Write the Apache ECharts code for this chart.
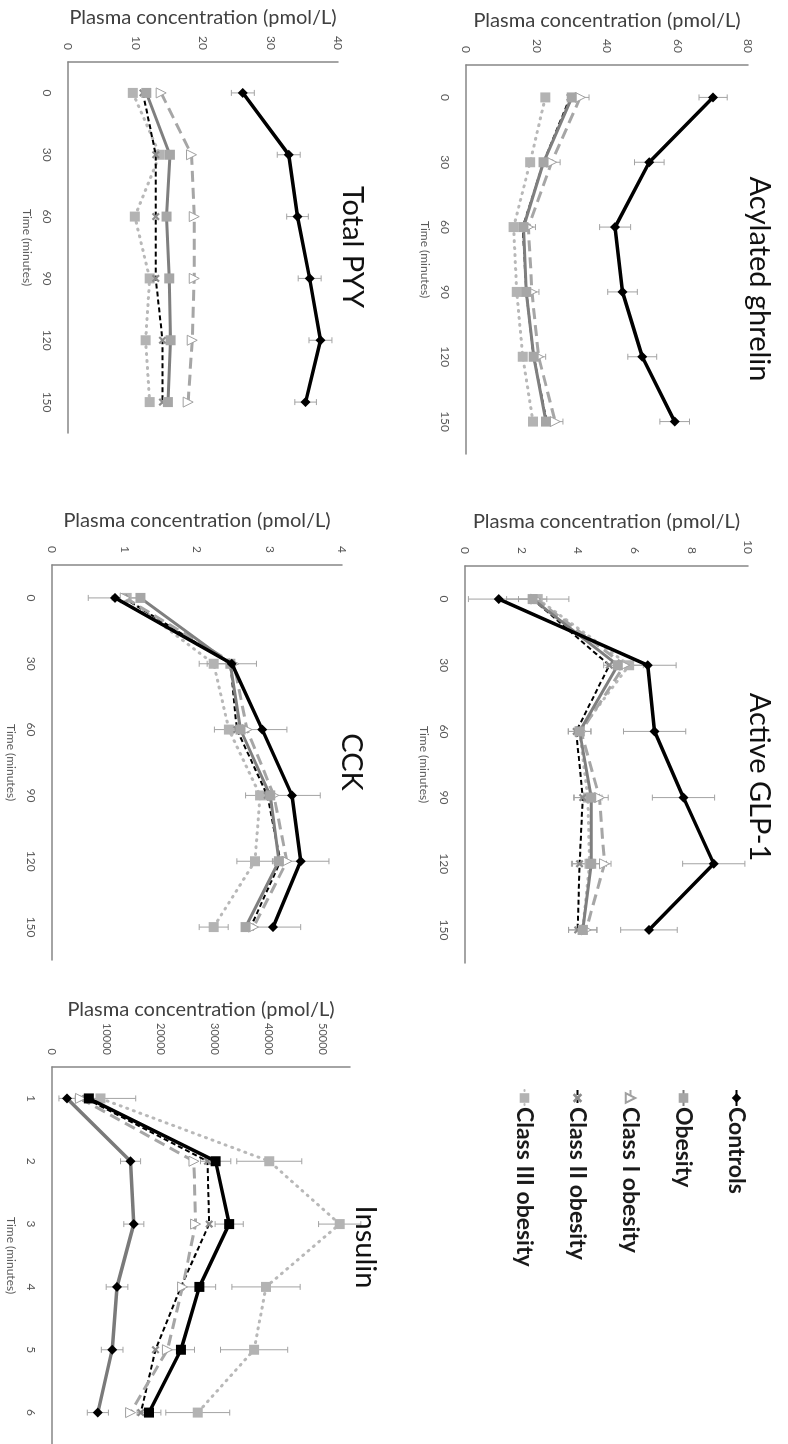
<!DOCTYPE html>
<html>
<head>
<meta charset="utf-8">
<script src="https://cdn.jsdelivr.net/npm/echarts@6/dist/echarts.min.js"></script>
<style>
  html, body { margin: 0; padding: 0; background: #ffffff; }
  body { width: 788px; height: 1444px; overflow: hidden; position: relative; }
  /* the figure is drawn upright, then turned a quarter clockwise like the scan */
  #chart {
    position: absolute; left: 0; top: 0;
    width: 1444px; height: 788px;
    transform-origin: 0 0;
    transform: translate(788px, 0) rotate(90deg);
  }
</style>
</head>
<body>
<div id="chart"></div>
<script>
var groups = ['Controls', 'Obesity', 'Class I obesity', 'Class II obesity', 'Class III obesity'];
var times = ['0', '30', '60', '90', '120', '150'];
var insulinTimes = ['1', '2', '3', '4', '5', '6'];

// Acylated ghrelin
var ghrelinControls = [70.1, 52.0, 42.3, 44.4, 50.0, 59.2];
var ghrelinObesity  = [30.0, 22.0, 16.3, 17.1, 19.2, 22.7];
var ghrelinClass1   = [32.4, 24.3, 17.7, 18.7, 20.6, 25.3];
var ghrelinClass2   = [29.5, 22.0, 16.1, 17.1, 19.2, 22.9];
var ghrelinClass3   = [22.5, 18.2, 13.5, 14.4, 16.1, 19.0];
var ghrelinControlsErr = [4.0, 4.2, 4.4, 4.2, 4.1, 4.2];
var ghrelinClass1Err   = [2.5, 2.4, 2.0, 2.0, 2.0, 2.2];

// Active GLP-1
var glpControls = [1.19, 6.46, 6.70, 7.72, 8.79, 6.50];
var glpObesity  = [2.39, 5.40, 4.05, 4.46, 4.46, 4.16];
var glpClass1   = [2.50, 5.64, 4.10, 4.75, 4.93, 4.28];
var glpClass2   = [2.39, 5.10, 3.93, 4.16, 4.05, 3.98];
var glpClass3   = [2.57, 5.80, 4.05, 4.34, 4.40, 4.16];
var glpControlsErr = [1.07, 1.00, 1.10, 1.10, 1.10, 1.00];
var glpObesityErr  = [0.50, 0.50, 0.40, 0.60, 0.70, 0.50];
var glpClass3Err   = [1.10, 0.50, 0.40, 0.50, 0.60, 0.50];

// Total PYY
var pyyControls = [25.9, 32.7, 34.0, 35.8, 37.4, 35.2];
var pyyObesity  = [11.6, 15.1, 14.6, 15.0, 15.2, 14.8];
var pyyClass1   = [13.8, 18.3, 18.7, 18.7, 18.4, 17.8];
var pyyClass2   = [11.1, 13.0, 13.0, 13.0, 14.0, 14.0];
var pyyClass3   = [9.6, 13.6, 9.9, 12.1, 11.5, 12.1];
var pyyControlsErr = [1.7, 1.7, 1.6, 1.7, 1.7, 1.6];

// CCK
var cckControls = [0.87, 2.48, 2.90, 3.31, 3.43, 3.05];
var cckObesity  = [1.22, 2.46, 2.60, 3.01, 3.13, 2.67];
var cckClass1   = [1.01, 2.51, 2.69, 3.06, 3.24, 2.78];
var cckClass2   = [0.99, 2.46, 2.55, 2.97, 3.15, 2.74];
var cckClass3   = [1.03, 2.23, 2.44, 2.87, 2.80, 2.23];
var cckControlsErr = [0.37, 0.34, 0.34, 0.39, 0.39, 0.38];
var cckClass3Err   = [0.20, 0.20, 0.20, 0.20, 0.25, 0.20];

// Insulin
var insulinControls = [2780, 14500, 15100, 12000, 11100, 8460];
var insulinObesity  = [6800, 30200, 32700, 27200, 23800, 17900];
var insulinClass1   = [5250, 26200, 26500, 24100, 21300, 14500];
var insulinClass2   = [6200, 28700, 29000, 23800, 19100, 16400];
var insulinClass3   = [8950, 40100, 53100, 39500, 37300, 26900];
var insulinControlsErr = [1500, 1850, 1850, 2000, 2000, 1950];
var insulinObesityErr  = [1500, 2800, 2600, 3000, 2500, 2200];
var insulinClass3Err   = [6500, 6000, 3900, 6300, 6200, 5900];

var panels = [
  { title: 'Acylated ghrelin', tx: 274, ty: 26, grid: { left: 65, top: 40, width: 389, height: 282 },
    max: 80, interval: 20, cats: times,
    data: [ghrelinControls, ghrelinObesity, ghrelinClass1, ghrelinClass2, ghrelinClass3],
    err: [ghrelinControlsErr, null, ghrelinClass1Err, null, null] },
  { title: 'Active GLP-1', tx: 772, ty: 26, grid: { left: 566, top: 40, width: 397, height: 283 },
    max: 10, interval: 2, cats: times,
    data: [glpControls, glpObesity, glpClass1, glpClass2, glpClass3],
    err: [glpControlsErr, glpObesityErr, null, null, glpClass3Err] },
  { title: 'Total PYY', tx: 242, ty: 433, grid: { left: 62, top: 450, width: 371, height: 270 },
    max: 40, interval: 10, cats: times,
    data: [pyyControls, pyyObesity, pyyClass1, pyyClass2, pyyClass3],
    err: [pyyControlsErr, null, null, null, null] },
  { title: 'CCK', tx: 757, ty: 434, grid: { left: 565, top: 446, width: 395, height: 290 },
    max: 4, interval: 1, cats: times,
    data: [cckControls, cckObesity, cckClass1, cckClass2, cckClass3],
    err: [cckControlsErr, null, null, null, cckClass3Err] },
  { title: 'Insulin', tx: 1242, ty: 420, grid: { left: 1067, top: 438, width: 379, height: 298 },
    max: 55000, interval: 10000, cats: insulinTimes, insulin: true,
    data: [insulinControls, insulinObesity, insulinClass1, insulinClass2, insulinClass3],
    err: [insulinControlsErr, insulinObesityErr, null, null, insulinClass3Err] }
];

var xMark = 'path://M2,0L5,3L8,0L10,2L7,5L10,8L8,10L5,7L2,10L0,8L3,5L0,2Z';

function groupStyle(k, insulin) {
  if (k === 0) return {
    symbol: 'diamond', symbolSize: 10,
    lineStyle: { color: insulin ? '#7a7a7a' : '#000000', width: 3.5 },
    itemStyle: { color: '#000000' }
  };
  if (k === 1) return insulin ? {
    symbol: 'rect', symbolSize: 10,
    lineStyle: { color: '#000000', width: 3.5 },
    itemStyle: { color: '#000000' }
  } : {
    symbol: 'rect', symbolSize: 10,
    lineStyle: { color: '#7f7f7f', width: 3 },
    itemStyle: { color: '#a6a6a6' }
  };
  if (k === 2) return {
    symbol: 'triangle', symbolSize: 10,
    lineStyle: { color: '#a6a6a6', width: 3, type: [11, 6] },
    itemStyle: { color: '#ffffff', borderColor: '#a0a0a0', borderWidth: 1 }
  };
  if (k === 3) return {
    symbol: xMark, symbolSize: 8,
    lineStyle: { color: '#000000', width: 2, type: [5, 3] },
    itemStyle: { color: '#8c8c8c' }
  };
  return {
    symbol: 'rect', symbolSize: 10,
    lineStyle: { color: '#b8b8b8', width: 3, type: [1, 6], cap: 'round' },
    itemStyle: { color: '#b3b3b3' }
  };
}

function errorBarItem(params, api) {
  var i = api.value(0);
  var lo = api.coord([i, api.value(1)]);
  var hi = api.coord([i, api.value(2)]);
  var cap = 3;
  var style = { stroke: '#a3a3a3', lineWidth: 1 };
  return {
    type: 'group',
    children: [
      { type: 'line', shape: { x1: lo[0], y1: lo[1], x2: hi[0], y2: hi[1] }, style: style },
      { type: 'line', shape: { x1: lo[0] - cap, y1: lo[1], x2: lo[0] + cap, y2: lo[1] }, style: style },
      { type: 'line', shape: { x1: hi[0] - cap, y1: hi[1], x2: hi[0] + cap, y2: hi[1] }, style: style }
    ]
  };
}

var font = 'Lato';
var grids = [], xAxes = [], yAxes = [], titles = [], series = [];

panels.forEach(function (p, g) {
  grids.push(p.grid);
  titles.push({
    text: p.title, left: p.tx, top: p.ty - 17, textAlign: 'center',
    textStyle: { fontFamily: font, fontSize: 29, fontWeight: 'normal', color: '#111111' }
  });
  xAxes.push({
    type: 'category', gridIndex: g, data: p.cats, boundaryGap: true,
    name: 'Time (minutes)', nameLocation: 'middle', nameGap: 35,
    nameTextStyle: { fontFamily: font, fontSize: 12, color: '#595959' },
    axisLine: { lineStyle: { color: '#868686', width: 1.5 } },
    axisTick: { show: false },
    axisLabel: { fontFamily: font, fontSize: 12, color: '#595959', margin: 15 }
  });
  yAxes.push({
    type: 'value', gridIndex: g, min: 0, max: p.max, interval: p.interval,
    name: 'Plasma concentration (pmol/L)', nameLocation: 'middle', nameGap: p.insulin ? 46 : 34,
    nameTextStyle: { fontFamily: font, fontSize: 20, color: '#404040' },
    axisLine: { show: true, lineStyle: { color: '#868686', width: 1.5 } },
    axisTick: { show: false },
    splitLine: { show: false },
    axisLabel: {
      fontFamily: font, fontSize: p.insulin ? 11 : 12, color: '#595959', margin: 12,
      showMaxLabel: !p.insulin,
      formatter: function (v) { return String(v); }
    }
  });

  // error bars first, so lines and markers sit over them
  p.err.forEach(function (e, k) {
    if (!e) return;
    series.push({
      type: 'custom', xAxisIndex: g, yAxisIndex: g, silent: true, z: 1,
      renderItem: errorBarItem,
      encode: { x: 0, y: [1, 2] },
      data: e.map(function (d, i) { return [i, p.data[k][i] - d, p.data[k][i] + d]; })
    });
  });

  for (var k = groups.length - 1; k >= 0; k--) {
    var s = groupStyle(k, p.insulin);
    series.push({
      name: groups[k], type: 'line', xAxisIndex: g, yAxisIndex: g,
      data: p.data[k], symbol: s.symbol, symbolSize: s.symbolSize,
      showAllSymbol: true, lineStyle: s.lineStyle, itemStyle: s.itemStyle,
      z: 3 + (groups.length - k), animation: false
    });
  }
});

var chart = echarts.init(document.getElementById('chart'));
chart.setOption({
  backgroundColor: '#ffffff',
  animation: false,
  title: titles,
  legend: {
    data: groups, orient: 'vertical', left: 1084, top: 35, itemGap: 30,
    itemWidth: 16, itemHeight: 12,
    textStyle: { fontFamily: font, fontSize: 23, fontWeight: 'bold', color: '#1a1a1a', padding: [0, 0, 0, -4] }
  },
  grid: grids,
  xAxis: xAxes,
  yAxis: yAxes,
  series: series
});
</script>
</body>
</html>
